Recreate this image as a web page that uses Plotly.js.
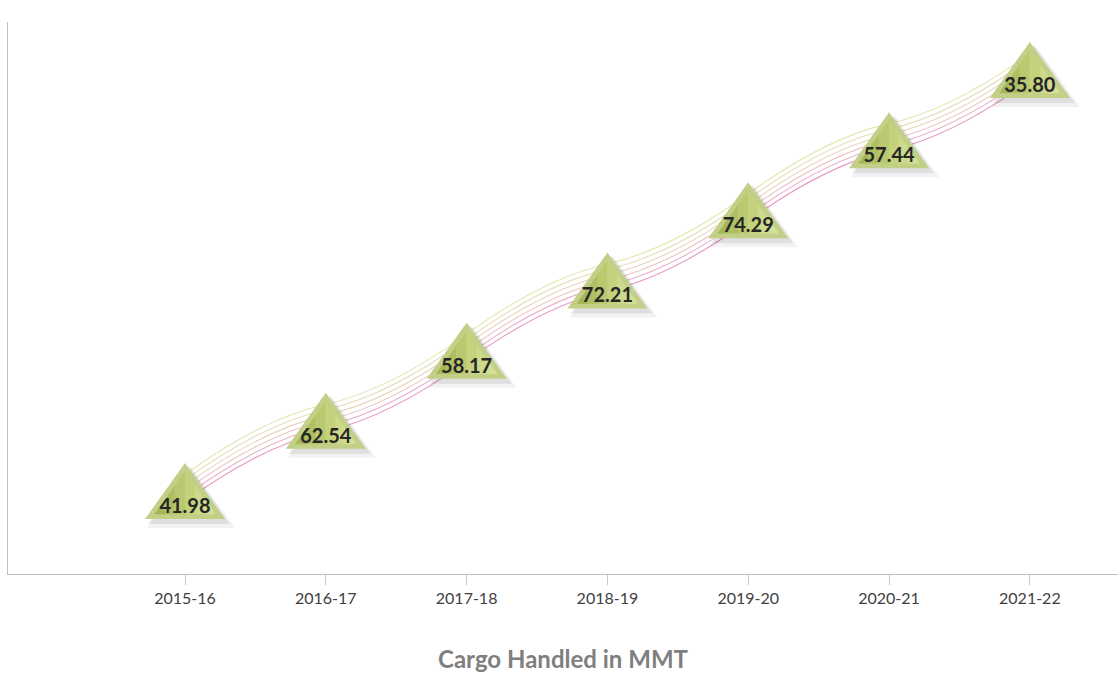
<!DOCTYPE html>
<html>
<head>
<meta charset="utf-8">
<script src="https://cdn.plot.ly/plotly-3.0.1.min.js"></script>
<style>html,body{margin:0;padding:0;background:#fff;}#chart{width:1118px;height:675px;}</style>
</head>
<body>
<div id="chart"></div>
<script>
// ---- data ----
const categories = ['2015-16', '2016-17', '2017-18', '2018-19', '2019-20', '2020-21', '2021-22'];
const cargoMMT = [41.98, 62.54, 58.17, 72.21, 74.29, 57.44, 35.80];
const valueLabels = ['41.98', '62.54', '58.17', '72.21', '74.29', '57.44', '35.80'];
const axisTitle = 'Cargo Handled in MMT';

// staircase position of each year (the picture places markers by order, not by value)
const xPos = categories.map((c, i) => i);
const stepPos = categories.map((c, i) => i);

// ---- layout geometry ----
const W = 1118, H = 675;
const M = {l: 8, r: 0, t: 22, b: 101};
const xRange = [-1.257, 6.626];
const yRange = [-0.9406, 6.926];
const plotH = H - M.t - M.b;
const pxPerLevel = plotH / (yRange[1] - yRange[0]);

const shapes = [];

// ---- connector band (wavy ribbon of thin lines) ----
const bandColors = ['#e0e8ae', '#e8ddb4', '#ecd0bb', '#eec3c3', '#edaecb', '#e996c6'];
const bandCenterPx = 20;
const bandGapPx = 5.4;
const slope = xPos.map((x, i) => (i % 2 === 0 ? 1.45 : 0.45));
bandColors.forEach((col, k) => {
  const offPx = bandCenterPx + (2.5 - k) * bandGapPx;
  const off = offPx / pxPerLevel;
  let p = 'M ' + xPos[0] + ',' + (stepPos[0] + off);
  for (let i = 0; i < xPos.length - 1; i++) {
    const x0 = xPos[i], x1 = xPos[i + 1];
    const y0 = stepPos[i] + off, y1 = stepPos[i + 1] + off;
    const dx = (x1 - x0) / 3;
    p += ' C ' + (x0 + dx) + ',' + (y0 + slope[i] * dx) + ' ' +
         (x1 - dx) + ',' + (y1 - slope[i + 1] * dx) + ' ' + x1 + ',' + y1;
  }
  shapes.push({type: 'path', xref: 'x', yref: 'y', layer: 'below', path: p,
               line: {color: col, width: 1.1}});
});

// ---- triangle markers (pixel-sized shapes anchored at data points) ----
function tri(hw, yb, ya, dx, dy) {
  return 'M ' + (-hw + dx) + ',' + (yb + dy) + ' L ' + (hw + dx) + ',' + (yb + dy) +
         ' L ' + dx + ',' + (ya + dy) + ' Z';
}
const HW = 40, YB = -11, YA = 45;
const s = 0.757, ic = 9.6;
const iHW = HW * s, iYB = ic + (YB - ic) * s, iYA = ic + (YA - ic) * s;
const stripColors = ['#a4b657', '#afc063', '#bac96f', '#c4d27d', '#cdda8b', '#d4df98'];

xPos.forEach((x, i) => {
  const base = {type: 'path', xref: 'x', yref: 'y', xsizemode: 'pixel', ysizemode: 'pixel',
                xanchor: x, yanchor: stepPos[i], layer: 'below', line: {width: 0}};
  // soft shadow
  shapes.push(Object.assign({}, base, {path: tri(HW + 4, YB - 3, YA + 2, 6, -6), fillcolor: 'rgba(0,0,0,0.05)'}));
  shapes.push(Object.assign({}, base, {path: tri(HW + 1, YB - 1, YA + 1, 4, -4), fillcolor: 'rgba(0,0,0,0.08)'}));
  // outer bevel
  shapes.push(Object.assign({}, base, {path: tri(HW, YB, YA, 0, 0), fillcolor: '#c2d087'}));
  // inner face as vertical strips (horizontal gradient)
  const n = stripColors.length;
  for (let k = 0; k < n; k++) {
    const xa = -iHW + (2 * iHW) * k / n, xb = -iHW + (2 * iHW) * (k + 1) / n;
    const topAt = (xx) => iYB + (iYA - iYB) * (1 - Math.abs(xx) / iHW);
    let pts = [[xa, iYB], [xb, iYB], [xb, topAt(xb)]];
    if (xa < 0 && xb > 0) pts.push([0, iYA]);
    pts.push([xa, topAt(xa)]);
    const path = 'M ' + pts.map(q => q[0].toFixed(2) + ',' + q[1].toFixed(2)).join(' L ') + ' Z';
    shapes.push(Object.assign({}, base, {path: path, fillcolor: stripColors[k],
                line: {width: 0.6, color: stripColors[k]}}));
  }
});

const labelTrace = {
  type: 'scatter', mode: 'text', x: xPos, y: stepPos, text: valueLabels,
  textposition: 'middle center', cliponaxis: false, hoverinfo: 'skip',
  customdata: cargoMMT,
  textfont: {family: 'Lato, sans-serif', size: 20, color: '#262626', weight: 'bold'},
  showlegend: false
};

const layout = {
  width: W, height: H,
  margin: M,
  paper_bgcolor: '#ffffff', plot_bgcolor: '#ffffff',
  showlegend: false,
  xaxis: {
    range: xRange, tickvals: xPos, ticktext: categories,
    showgrid: false, zeroline: false, showline: true, linecolor: '#bfbfbf', linewidth: 1,
    ticks: 'outside', ticklen: 10, tickcolor: '#c8c8c8', tickwidth: 1,
    tickfont: {family: 'Lato, sans-serif', size: 16, color: '#404040'},
    title: {text: axisTitle, standoff: 44,
            font: {family: 'Lato, sans-serif', size: 24, color: '#7f7f7f', weight: 'bold'}},
    fixedrange: true
  },
  yaxis: {
    range: yRange, showgrid: false, zeroline: false, showline: true,
    linecolor: '#bfbfbf', linewidth: 1, showticklabels: false, ticks: '', fixedrange: true
  },
  shapes: shapes
};

Plotly.newPlot('chart', [labelTrace], layout, {displayModeBar: false, staticPlot: true});
</script>
</body>
</html>
